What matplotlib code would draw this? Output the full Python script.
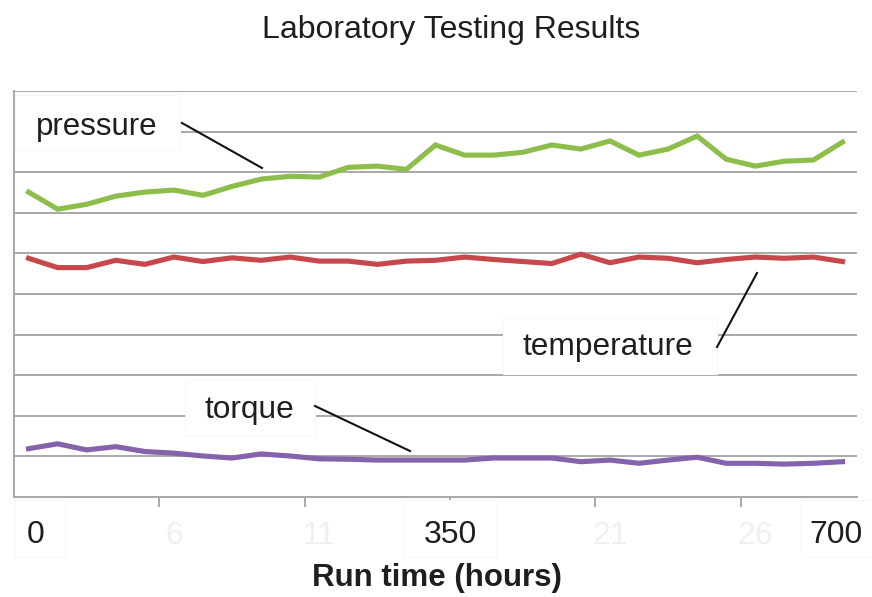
import numpy as np
import matplotlib
matplotlib.use("Agg")
import matplotlib.pyplot as plt
from matplotlib.lines import Line2D
from matplotlib.patches import Rectangle

plt.rcParams['font.family'] = ['Liberation Sans', 'DejaVu Sans']

# ---- data ----
run_index = list(range(1, 30))  # 29 samples
pressure = [7.51, 7.09, 7.21, 7.41, 7.51, 7.56, 7.43, 7.65, 7.83, 7.90,
            7.88, 8.12, 8.15, 8.07, 8.67, 8.42, 8.42, 8.49, 8.67, 8.57,
            8.77, 8.42, 8.57, 8.89, 8.32, 8.15, 8.27, 8.30, 8.74]
temperature = [5.88, 5.65, 5.65, 5.83, 5.73, 5.91, 5.80, 5.89, 5.83, 5.91,
               5.81, 5.81, 5.73, 5.81, 5.83, 5.91, 5.85, 5.80, 5.75, 5.98,
               5.77, 5.91, 5.88, 5.77, 5.85, 5.91, 5.88, 5.91, 5.80]
torque = [1.19, 1.31, 1.16, 1.24, 1.12, 1.08, 1.01, 0.96, 1.06, 1.01,
          0.94, 0.93, 0.91, 0.91, 0.91, 0.91, 0.96, 0.96, 0.96, 0.87,
          0.91, 0.83, 0.91, 0.98, 0.83, 0.83, 0.81, 0.83, 0.87]
# faint original category labels (those at 1 and 16 are hidden under boxes)
faint_tick_labels = ['', '6', '11', '', '21', '26']
overlay_tick_labels = ['0', '350', '700']
series_names = ['pressure', 'temperature', 'torque']
title = 'Laboratory Testing Results'
xlabel = 'Run time (hours)'

W, H = 872, 597
fig = plt.figure(figsize=(W / 100, H / 100), dpi=100)
fig.patch.set_facecolor('white')


def fx(px):
    return px / W


def fy(py):
    return 1 - py / H


ax = fig.add_axes([fx(14), fy(497), fx(857) - fx(14), fy(91) - fy(497)])
x = np.arange(len(run_index))

ax.plot(x, pressure, color='#8DBE4B', lw=3.7, solid_joinstyle='miter', zorder=3)
ax.plot(x, temperature, color='#C8474A', lw=3.7, solid_joinstyle='miter', zorder=3)
ax.plot(x, torque, color='#8462AC', lw=3.7, solid_joinstyle='miter', zorder=3)

ax.set_xlim(-0.5, len(run_index) - 0.5)
ax.set_ylim(0, 10)
ax.set_yticks(np.arange(0, 11, 1))
ax.yaxis.grid(True, color='#a8a8a8', lw=1.4, zorder=1)
ax.set_axisbelow(True)
ax.tick_params(axis='y', length=0, labelleft=False)

ax.set_xticks(x[::5])
ax.set_xticklabels(faint_tick_labels, color='#f0f0f0', fontsize=23)
ax.set_xticks(np.arange(4.5, len(run_index) - 1, 5), minor=True)
ax.tick_params(axis='x', which='major', length=0, pad=17)
ax.tick_params(axis='x', which='minor', length=7, width=1.4, color='#a8a8a8')

for s in ['top', 'right']:
    ax.spines[s].set_visible(False)
for s in ['left', 'bottom']:
    ax.spines[s].set_color('#a8a8a8')
    ax.spines[s].set_linewidth(1.4)


def box(x0, y0, x1, y1):
    r = Rectangle((fx(x0), fy(y1)), fx(x1) - fx(x0), fy(y0) - fy(y1),
                  transform=fig.transFigure, facecolor='white',
                  edgecolor='#f8f8f8', lw=0.8, zorder=5)
    fig.add_artist(r)


def leader(x0, y0, x1, y1):
    fig.add_artist(Line2D([fx(x0), fx(x1)], [fy(y0), fy(y1)],
                          transform=fig.transFigure, color='#111111',
                          lw=1.5, zorder=6))


txt = '#1e1e1e'

# series labels
box(15, 95, 180, 150)
fig.text(fx(97), fy(127), series_names[0], fontsize=22.5, color=txt,
         ha='center', va='center', zorder=7)
leader(182, 123, 262, 168)

box(503, 318, 717, 374)
fig.text(fx(608), fy(347), series_names[1], fontsize=22.8, color=txt,
         ha='center', va='center', zorder=7)
leader(717, 347, 757, 273)

box(185, 380, 315, 436)
fig.text(fx(249), fy(410), series_names[2], fontsize=22.8, color=txt,
         ha='center', va='center', zorder=7)
leader(315, 406, 410, 451)

# overlay tick labels
for (x0, x1, cx), lab in zip([(15, 65, 36), (403, 496, 450), (800, 872, 836)],
                             overlay_tick_labels):
    box(x0, 500, x1, 557)
    fig.text(fx(cx), fy(543), lab, fontsize=23, color=txt,
             ha='center', va='baseline', zorder=7)

fig.text(fx(437), fy(586), xlabel, fontsize=22.5, fontweight='bold',
         color=txt, ha='center', va='baseline')
fig.text(fx(451), fy(38), title, fontsize=23, color=txt,
         ha='center', va='baseline')

fig.savefig('out.png', dpi=100, facecolor='white')
